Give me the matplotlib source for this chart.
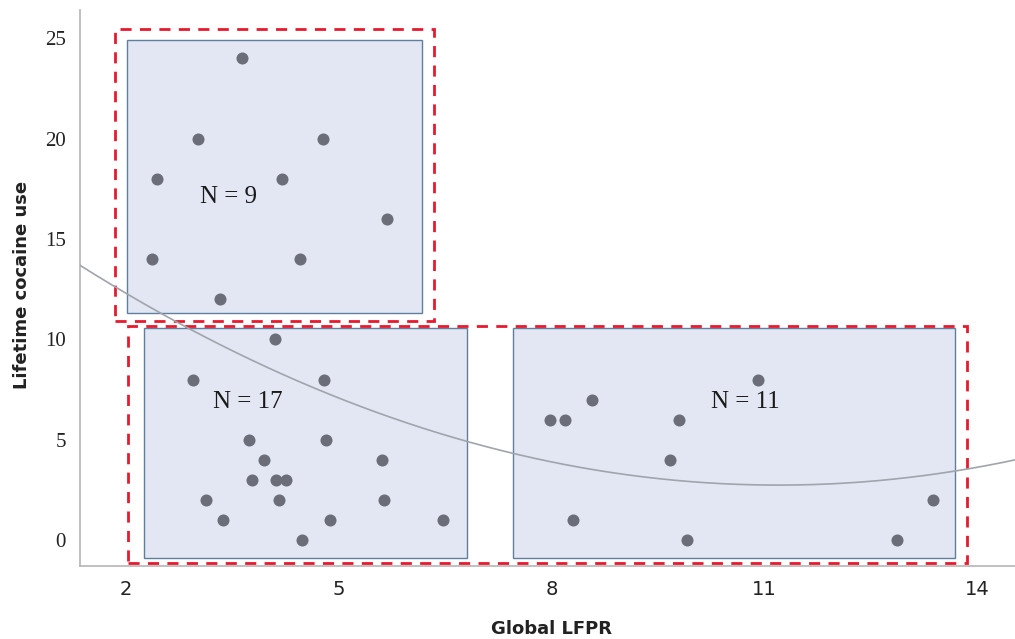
import matplotlib
matplotlib.use("Agg")
import matplotlib.pyplot as plt
import numpy as np
from matplotlib.patches import Rectangle

# ---- data ----
top_x = [3.64, 3.02, 4.78, 2.44, 4.20, 5.68, 2.37, 4.45, 3.33]
top_y = [24, 20, 20, 18, 18, 16, 14, 14, 12]

bl_x = [4.10, 2.94, 4.79, 3.73, 4.82, 3.95, 5.61, 3.78, 4.11, 4.25,
        3.13, 4.16, 5.64, 3.36, 4.88, 6.47, 4.48]
bl_y = [10, 8, 8, 5, 5, 4, 4, 3, 3, 3, 2, 2, 2, 1, 1, 1, 0]

br_x = [10.91, 8.57, 7.98, 8.18, 9.79, 9.66, 13.38, 8.30, 9.90, 12.87]
br_y = [8, 7, 6, 6, 6, 4, 2, 1, 0, 0]

fit_coef = [0.113, -2.53, 16.9]   # quadratic fit line

group_labels = ["N = 9", "N = 17", "N = 11"]
label_pos_x = [3.44, 3.72, 10.73]
label_pos_y = [17.1, 6.9, 6.9]

# inner boxes (x0, x1, y0, y1)
inner_boxes = [(2.01, 6.17, 11.3, 24.9),
               (2.25, 6.80, -0.9, 10.55),
               (7.46, 13.69, -0.9, 10.55)]
# red dashed boxes
outer_boxes = [(1.84, 6.34, 10.9, 25.45),
               (2.03, 13.85, -1.15, 10.65)]

xticks = [2, 5, 8, 11, 14]
yticks = [0, 5, 10, 15, 20, 25]

# ---- figure ----
fig = plt.figure(figsize=(10.15, 6.39), dpi=100)
ax = fig.add_axes([0.0788, 0.114, 0.9212, 0.87])
ax.set_xlim(1.35, 14.53)
ax.set_ylim(-1.3, 26.4)

for (x0, x1, y0, y1) in inner_boxes:
    ax.add_patch(Rectangle((x0, y0), x1 - x0, y1 - y0, facecolor="#e3e7f3",
                           edgecolor="#5e7f9e", linewidth=1.0, zorder=1))
for (x0, x1, y0, y1) in outer_boxes:
    ax.add_patch(Rectangle((x0, y0), x1 - x0, y1 - y0, facecolor="none",
                           edgecolor="#e8192f", linewidth=2.0,
                           linestyle=(0, (4, 3)), zorder=2))

xs = np.linspace(1.35, 14.53, 300)
ax.plot(xs, np.polyval(fit_coef, xs), color="#a0a4ab", linewidth=1.2, zorder=3)

pc = "#6b6e78"
ax.scatter(top_x, top_y, s=75, color=pc, zorder=4, linewidths=0)
ax.scatter(bl_x, bl_y, s=75, color=pc, zorder=4, linewidths=0)
ax.scatter(br_x, br_y, s=75, color=pc, zorder=4, linewidths=0)

for t, x, y in zip(group_labels, label_pos_x, label_pos_y):
    ax.text(x, y, t, fontsize=18, family="Liberation Serif", ha="center",
            va="center", color="#1a1a1a", zorder=5)

for s in ["top", "right"]:
    ax.spines[s].set_visible(False)
for s in ["left", "bottom"]:
    ax.spines[s].set_color("#b5b5b5")
    ax.spines[s].set_linewidth(1.2)

ax.set_xticks(xticks)
ax.set_yticks(yticks)
ax.tick_params(length=0)
ax.tick_params(axis="x", pad=10)
ax.tick_params(axis="y", pad=10)
ax.set_xticklabels([str(v) for v in xticks], fontsize=14,
                   family="DejaVu Sans", color="#222222")
ax.set_yticklabels([str(v) for v in yticks], fontsize=15,
                   family="Liberation Serif", color="#222222")

ax.set_xlabel("Global LFPR", fontsize=13, fontweight="bold", color="#222222")
ax.set_ylabel("Lifetime cocaine use", fontsize=13, fontweight="bold", color="#222222")
ax.xaxis.set_label_coords(0.504, -0.097)
ax.yaxis.set_label_coords(-0.052, 0.505)

fig.savefig("out.png", dpi=100)
